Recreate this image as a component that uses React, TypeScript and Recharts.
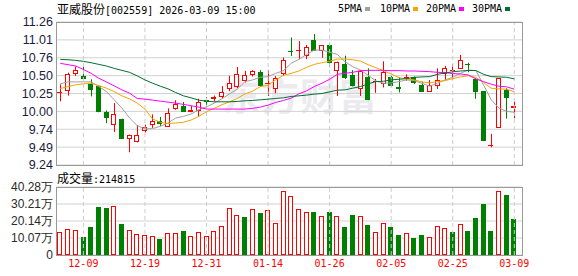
import { Bar, CartesianGrid, ComposedChart, Line, ReferenceLine, XAxis, YAxis } from "recharts";

const RED = "#ff0000";
const GREEN = "#008000";

const dates = [
  "12-04", "12-05", "12-08", "12-09", "12-10", "12-11", "12-12", "12-15", "12-16", "12-17",
  "12-18", "12-19", "12-22", "12-23", "12-24", "12-25", "12-26", "12-29", "12-30", "12-31",
  "01-05", "01-06", "01-07", "01-08", "01-09", "01-12", "01-13", "01-14", "01-15", "01-16",
  "01-19", "01-20", "01-21", "01-22", "01-23", "01-26", "01-27", "01-28", "01-29", "01-30",
  "02-02", "02-03", "02-04", "02-05", "02-06", "02-09", "02-10", "02-11", "02-12", "02-13",
  "02-24", "02-25", "02-26", "02-27", "03-02", "03-03", "03-04", "03-05", "03-06", "03-09",
];

const opens = [
  10.265, 10.3, 10.535, 10.5, 10.39, 10.355, 9.99, 9.82, 9.885, 9.625,
  9.58, 9.735, 9.815, 9.855, 9.795, 10.045, 10.08, 10.008, 10.015, 10.155,
  10.19, 10.21, 10.325, 10.36, 10.44, 10.525, 10.55, 10.398, 10.325, 10.545,
  10.852, 10.865, 10.795, 11.01, 10.865, 10.935, 10.575, 10.665, 10.51, 10.325,
  10.48, 10.42, 10.395, 10.48, 10.336, 10.476, 10.48, 10.37, 10.29, 10.37,
  10.545, 10.575, 10.605, 10.668, 10.45, 10.28, 9.518, 9.78, 10.3, 10.066,
];
const highs = [
  10.38, 10.545, 10.63, 10.64, 10.45, 10.365, 10.01, 10.115, 9.895, 9.67,
  9.805, 9.81, 9.955, 9.92, 10.04, 10.155, 10.13, 10.075, 10.175, 10.195,
  10.22, 10.355, 10.5, 10.625, 10.57, 10.58, 10.58, 10.58, 10.495, 10.76,
  11.04, 10.99, 10.935, 11.09, 10.93, 10.955, 10.7, 10.785, 10.58, 10.58,
  10.605, 10.455, 10.705, 10.5, 10.48, 10.52, 10.49, 10.415, 10.44, 10.605,
  10.64, 10.665, 10.795, 10.685, 10.465, 10.28, 9.68, 10.47, 10.325, 10.135,
];
const lows = [
  10.14, 10.22, 10.5, 10.455, 10.21, 9.985, 9.83, 9.705, 9.615, 9.42,
  9.56, 9.7, 9.765, 9.79, 9.78, 10.02, 9.99, 9.985, 9.925, 10.09,
  10.14, 10.18, 10.285, 10.325, 10.405, 10.49, 10.345, 10.215, 10.255, 10.5,
  10.78, 10.735, 10.735, 10.85, 10.755, 10.62, 10.215, 10.455, 10.35, 10.215,
  10.155, 10.26, 10.335, 10.35, 10.265, 10.43, 10.385, 10.28, 10.29, 10.315,
  10.44, 10.44, 10.605, 10.55, 10.175, 9.585, 9.49, 9.765, 9.895, 9.9,
];
const closes = [
  10.27, 10.525, 10.575, 10.475, 10.32, 10.0, 9.915, 9.96, 9.62, 9.665,
  9.665, 9.78, 9.865, 9.83, 9.975, 10.105, 10.0, 10.012, 10.13, 10.14,
  10.195, 10.27, 10.4, 10.525, 10.51, 10.565, 10.37, 10.402, 10.475, 10.73,
  10.847, 10.868, 10.91, 10.86, 10.93, 10.69, 10.695, 10.485, 10.37, 10.57,
  10.175, 10.424, 10.555, 10.37, 10.332, 10.48, 10.415, 10.29, 10.37, 10.435,
  10.615, 10.578, 10.73, 10.664, 10.28, 9.6, 9.522, 10.47, 10.195, 10.07,
];
// 成交量 (万)
const vols = [
  13.6, 15.2, 14.6, 10.7, 16.6, 28.4, 27.8, 28.8, 18.4, 14.6,
  12.2, 11.6, 11.1, 9.5, 12.8, 12.8, 14.2, 11.1, 13.4, 11.1,
  14.0, 17.0, 27.6, 23.5, 22.5, 27.1, 24.9, 26.5, 18.8, 37.7,
  34.9, 27.2, 25.3, 25.5, 22.9, 25.5, 22.9, 16.6, 23.7, 22.9,
  17.8, 13.4, 18.8, 16.6, 11.8, 12.8, 10.1, 11.8, 10.5, 17.0,
  15.8, 13.6, 18.2, 14.2, 21.9, 30.2, 14.2, 37.7, 35.5, 21.48,
];
const ma5 = [
  10.386, 10.414, 10.414, 10.414, 10.414, 10.348, 10.278, 10.161, 10.044, 9.904,
  9.796, 9.75, 9.754, 9.787, 9.834, 9.904, 9.927, 9.96, 10.021, 10.063,
  10.114, 10.175, 10.245, 10.311, 10.418, 10.442, 10.479, 10.488, 10.535, 10.573,
  10.676, 10.732, 10.802, 10.863, 10.863, 10.834, 10.802, 10.699, 10.629, 10.582,
  10.507, 10.428, 10.395, 10.4, 10.418, 10.442, 10.432, 10.395, 10.353, 10.395,
  10.442, 10.479, 10.535, 10.582, 10.573, 10.372, 10.161, 10.044, 9.998, 9.984,
];
const ma10 = [
  10.32, 10.348, 10.372, 10.386, 10.395, 10.362, 10.325, 10.278, 10.217, 10.175,
  10.114, 10.03, 9.89, 9.843, 9.824, 9.834, 9.843, 9.876, 9.927, 9.993,
  10.04, 10.091, 10.133, 10.18, 10.245, 10.283, 10.348, 10.367, 10.442, 10.507,
  10.535, 10.568, 10.619, 10.661, 10.685, 10.704, 10.736, 10.736, 10.727, 10.708,
  10.657, 10.615, 10.573, 10.526, 10.474, 10.456, 10.442, 10.414, 10.4, 10.418,
  10.432, 10.46, 10.484, 10.502, 10.479, 10.404, 10.325, 10.315, 10.311, 10.273,
];
const ma20 = [
  10.676, 10.657, 10.638, 10.591, 10.535, 10.465, 10.414, 10.358, 10.301, 10.255,
  10.18, 10.17, 10.156, 10.142, 10.128, 10.114, 10.096, 10.077, 10.058, 10.03,
  10.03, 10.03, 10.03, 10.03, 10.03, 10.04, 10.058, 10.086, 10.124, 10.152,
  10.184, 10.245, 10.287, 10.348, 10.395, 10.451, 10.521, 10.535, 10.549, 10.573,
  10.577, 10.577, 10.577, 10.573, 10.573, 10.568, 10.568, 10.563, 10.559, 10.549,
  10.545, 10.531, 10.526, 10.512, 10.456, 10.418, 10.381, 10.353, 10.344, 10.311,
];
const ma30 = [
  10.732, 10.727, 10.718, 10.704, 10.685, 10.661, 10.638, 10.605, 10.577, 10.549,
  10.498, 10.442, 10.395, 10.353, 10.315, 10.264, 10.217, 10.189, 10.156, 10.142,
  10.133, 10.133, 10.133, 10.138, 10.147, 10.152, 10.161, 10.17, 10.18, 10.189,
  10.208, 10.217, 10.227, 10.241, 10.25, 10.273, 10.297, 10.301, 10.325, 10.348,
  10.386, 10.418, 10.423, 10.442, 10.451, 10.46, 10.479, 10.484, 10.488, 10.521,
  10.54, 10.556, 10.568, 10.575, 10.575, 10.521, 10.488, 10.484, 10.479, 10.456,
];

const priceTicks = [9.24, 9.4925, 9.745, 9.9975, 10.25, 10.5025, 10.755, 11.0075, 11.26];
const priceLabels = ["9.24", "9.49", "9.74", "10.00", "10.25", "10.50", "10.76", "11.01", "11.26"];
const volTicks = [0, 10.07, 20.14, 30.21, 40.28];
const volLabels = ["0", "10.07万", "20.14万", "30.21万", "40.28万"];
const dateTicks = ["12-09", "12-19", "12-31", "01-14", "01-26", "02-05", "02-25", "03-09"];

const legendItems = [
  { name: "5PMA", color: "#a0a0a0", left: 338 },
  { name: "10PMA", color: "#f5a500", left: 380 },
  { name: "20PMA", color: "#ff00ff", left: 426 },
  { name: "30PMA", color: "#006e2e", left: 472 },
];

const rows = dates.map((d, i) => ({
  i,
  date: d,
  open: opens[i],
  high: highs[i],
  low: lows[i],
  close: closes[i],
  range: [lows[i], highs[i]],
  vol: vols[i],
  volUp: i === 0 ? closes[i] >= opens[i] : closes[i] >= closes[i - 1],
  ma5: ma5[i],
  ma10: ma10[i],
  ma20: ma20[i],
  ma30: ma30[i],
}));

const dateIdx = dateTicks.map((d) => dates.indexOf(d));
const X_DOMAIN: [number, number] = [-0.56, 60];
const MONO = "'DejaVu Sans Mono', 'Liberation Mono', monospace";
const CJK = "'Noto Sans CJK SC', sans-serif";
const SANS = "'Liberation Sans', Arial, sans-serif";

const Candle = (props: any) => {
  const { x, y, width, height, payload } = props;
  if (!payload || height == null) return null;
  const top = Math.min(y, y + height);
  const h = Math.abs(height);
  const { open, close, high, low } = payload;
  const k = h / (high - low);
  const yO = top + (high - open) * k;
  const yC = top + (high - close) * k;
  const up = close > open;
  const color = up ? RED : GREEN;
  const cx = Math.round(x + width / 2) + 0.5;
  const bx = Math.round(x) + 0.5;
  const b1 = Math.round(Math.min(yO, yC)) + 0.5;
  const b2 = Math.round(Math.max(yO, yC)) + 0.5;
  return (
    <g>
      <line x1={cx} x2={cx} y1={top} y2={top + h} stroke={color} />
      {b2 - b1 < 1 ? (
        <line x1={bx - 0.5} x2={bx + width - 0.5} y1={b1} y2={b1} stroke={color} />
      ) : (
        <rect x={bx} y={b1} width={width - 1} height={b2 - b1} fill={up ? "#fff" : color} stroke={color} />
      )}
    </g>
  );
};

const VolBar = (props: any) => {
  const { x, y, width, height, payload } = props;
  if (!payload || height == null) return null;
  const top = Math.min(y, y + height);
  const h = Math.abs(height);
  const color = payload.volUp ? RED : GREEN;
  const bx = Math.round(x) + 0.5;
  const by = Math.round(top) + 0.5;
  const bb = Math.round(top + h) - 0.5;
  return (
    <rect x={bx} y={by} width={width - 1} height={Math.max(bb - by, 0)} fill={payload.volUp ? "#fff" : color} stroke={color} />
  );
};

export default function App() {
  return (
    <div style={{ position: "absolute", left: 0, top: 0, width: 578, height: 276, background: "#fff", overflow: "hidden" }}>
      {/* watermark */}
      <div
        style={{
          position: "absolute", left: 222, top: 66, fontSize: 38, fontWeight: 700,
          fontFamily: CJK, color: "#ebebef", letterSpacing: 1,
        }}
      >
        东方财富
      </div>

      <div style={{ position: "absolute", left: 57, top: 1, whiteSpace: "nowrap", lineHeight: "16px" }}>
        <span style={{ fontFamily: CJK, fontSize: 12 }}>亚威股份</span>
        <span style={{ fontFamily: MONO, fontSize: 10 }}>[002559] 2026-03-09 15:00</span>
      </div>

      {legendItems.map((it) => (
        <div key={it.name} style={{ position: "absolute", left: it.left, top: 1, lineHeight: "16px", whiteSpace: "nowrap", fontFamily: MONO, fontSize: 10 }}>
          {it.name}
          <span style={{ display: "inline-block", width: 5, height: 4, background: it.color, marginLeft: 3, verticalAlign: "middle" }} />
        </div>
      ))}

      <div style={{ position: "absolute", left: 57, top: 170, whiteSpace: "nowrap", lineHeight: "16px" }}>
        <span style={{ fontFamily: CJK, fontSize: 12 }}>成交量</span>
        <span style={{ fontFamily: MONO, fontSize: 10 }}>:214815</span>
      </div>

      <div style={{ position: "absolute", left: 0, top: 170 }}>
        <ComposedChart width={578} height={100} data={rows} margin={{ top: 17, right: 56, bottom: 0, left: 0 }}>
          <CartesianGrid vertical={false} stroke="#d2d2d2" />
          <XAxis
            dataKey="i"
            type="number"
            domain={X_DOMAIN}
            ticks={dateIdx}
            interval={0}
            allowDataOverflow
            height={15}
            axisLine={false}
            tickLine={false}
            tickSize={0}
            tickMargin={5}
            tickFormatter={(v: number) => dates[v]}
            tick={{ fontSize: 10, fill: RED, fontFamily: MONO }}
          />
          <YAxis
            domain={[0, 40.28]}
            ticks={volTicks}
            interval={0}
            allowDataOverflow
            width={56}
            axisLine={false}
            tickLine={false}
            tickSize={1}
            tickMargin={2}
            tickFormatter={(v: number) => volLabels[volTicks.indexOf(v)] ?? ""}
            tick={{ fontSize: 12, fill: "#2a2a2a", fontFamily: SANS }}
          />
          {dateIdx.map((i) => (
            <ReferenceLine key={i} x={i} stroke="#cccccc" strokeDasharray="4 3" />
          ))}
          <Bar dataKey="vol" barSize={5} shape={(p: any) => <VolBar {...p} />} isAnimationActive={false} />
        </ComposedChart>
      </div>
      <div style={{ position: "absolute", left: 56, top: 187, width: 467, height: 69, border: "1px solid #999", boxSizing: "border-box", pointerEvents: "none" }} />

      <div style={{ position: "absolute", left: 0, top: 0 }}>
        <ComposedChart width={578} height={176} data={rows} margin={{ top: 22, right: 56, bottom: 11, left: 0 }}>
          <CartesianGrid vertical={false} stroke="#d2d2d2" />
          <XAxis dataKey="i" type="number" domain={X_DOMAIN} ticks={dateIdx} allowDataOverflow hide />
          <YAxis
            domain={[9.24, 11.26]}
            ticks={priceTicks}
            interval={0}
            allowDataOverflow
            width={56}
            axisLine={false}
            tickLine={false}
            tickSize={1}
            tickMargin={2}
            tickFormatter={(v: number) => priceLabels[priceTicks.indexOf(v)] ?? ""}
            tick={{ fontSize: 12.5, fill: "#1c1c3c", fontFamily: SANS }}
          />
          {dateIdx.map((i) => (
            <ReferenceLine key={i} x={i} stroke="#cccccc" strokeDasharray="4 3" />
          ))}
          <Bar dataKey="range" barSize={5} shape={(p: any) => <Candle {...p} />} isAnimationActive={false} />
          <Line dataKey="ma5" type="linear" stroke="#a0a0a0" strokeWidth={1} dot={false} isAnimationActive={false} />
          <Line dataKey="ma10" type="linear" stroke="#f5a500" strokeWidth={1} dot={false} isAnimationActive={false} />
          <Line dataKey="ma20" type="linear" stroke="#ff00ff" strokeWidth={1} dot={false} isAnimationActive={false} />
          <Line dataKey="ma30" type="linear" stroke="#006e2e" strokeWidth={1} dot={false} isAnimationActive={false} />
        </ComposedChart>
      </div>
      <div style={{ position: "absolute", left: 56, top: 22, width: 467, height: 144, border: "1px solid #999", boxSizing: "border-box", pointerEvents: "none" }} />
    </div>
  );
}
